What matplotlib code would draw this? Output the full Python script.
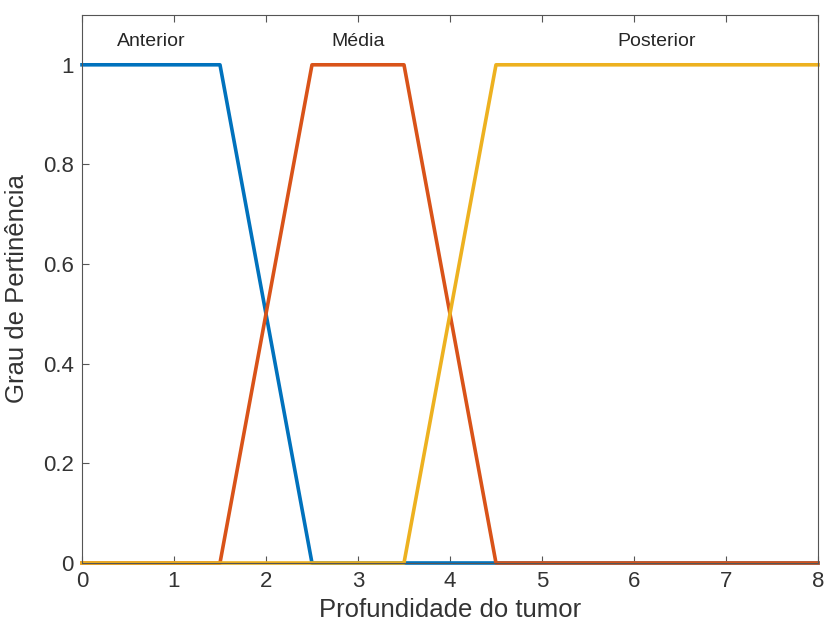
import matplotlib.pyplot as plt

plt.rcParams['font.family'] = ['Liberation Sans', 'DejaVu Sans']

# funções de pertinência (trapezoidais)
x_anterior = [0, 1.5, 2.5, 8]
y_anterior = [1, 1, 0, 0]
x_media = [0, 1.5, 2.5, 3.5, 4.5, 8]
y_media = [0, 0, 1, 1, 0, 0]
x_posterior = [0, 3.5, 4.5, 8]
y_posterior = [0, 0, 1, 1]

labels = ["Anterior", "Média", "Posterior"]
label_x = [0.75, 3.0, 6.25]

colors = ["#0072BD", "#D95319", "#EDB120"]
txt = "#262626"

fig = plt.figure(figsize=(8.24, 6.32), dpi=100)
ax = fig.add_axes([0.0995, 0.1092, 0.8932, 0.8671])

for xs, ys, c in zip([x_anterior, x_media, x_posterior],
                     [y_anterior, y_media, y_posterior], colors):
    ax.plot(xs, ys, color=c, linewidth=2.6, solid_joinstyle='round', clip_on=False)

for name, lx in zip(labels, label_x):
    ax.text(lx, 1.046, name, ha='center', va='center', fontsize=14, color=txt)

ax.set_xlim(0, 8)
ax.set_ylim(0, 1.1)
ax.set_xticks(range(0, 9))
ax.set_yticks([0, 0.2, 0.4, 0.6, 0.8, 1])
ax.set_yticklabels(["0", "0.2", "0.4", "0.6", "0.8", "1"])
ax.tick_params(direction='in', length=5, width=0.8, color='#555555',
               labelsize=16, labelcolor='#333333', top=True, right=False)
ax.tick_params(axis='x', pad=6)
ax.tick_params(axis='y', pad=6)
for s in ax.spines.values():
    s.set_color('#555555')
    s.set_linewidth(0.8)

ax.set_xlabel("Profundidade do tumor", fontsize=18.5, color='#333333', labelpad=4)
ax.set_ylabel("Grau de Pertinência", fontsize=18.5, color='#333333', labelpad=10)

fig.savefig("out.png", dpi=100)
